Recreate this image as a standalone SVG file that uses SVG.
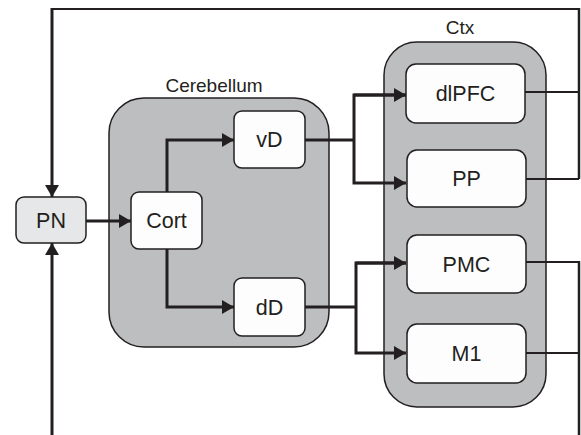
<svg xmlns="http://www.w3.org/2000/svg" width="581" height="435" viewBox="0 0 581 435">
<style>
.region{fill:#bcbec0;stroke:#231f20;stroke-width:1.5}
.box{fill:#fdfdfd;stroke:#231f20;stroke-width:1.5}
.pn{fill:#e6e7e8;stroke:#231f20;stroke-width:1.5}
.lbl{font-family:"Liberation Sans",Arial,sans-serif;font-size:21.5px;fill:#231f20;text-anchor:middle}
.glbl{font-family:"Liberation Sans",Arial,sans-serif;font-size:19px;fill:#231f20;text-anchor:middle}
.thick{fill:none;stroke:#231f20;stroke-width:3}
.thin{fill:none;stroke:#231f20;stroke-width:2}
.mid{fill:none;stroke:#231f20;stroke-width:2.5}
</style>
<defs>
<marker id="ah" markerUnits="userSpaceOnUse" markerWidth="12" markerHeight="14" refX="12" refY="7" orient="auto">
<path d="M0,0 L12,7 L0,14 z" fill="#231f20"/>
</marker>
</defs>
<rect width="581" height="435" fill="#ffffff"/>
<g id="cerebellum">
<rect class="region" x="109" y="98" width="220" height="249" rx="35"/>
<text class="glbl" x="214" y="92">Cerebellum</text>
</g>
<g id="ctx">
<rect class="region" x="384" y="42" width="162" height="365" rx="33"/>
<text class="glbl" x="460" y="34">Ctx</text>
</g>
<g id="connectors">
<path class="thick" d="M52,435 L52,243" marker-end="url(#ah)"/>
<path class="thin" d="M579,9 L51,9"/>
<path class="mid" d="M579,179 L579,8"/>
<path class="thick" d="M52,8 L52,197" marker-end="url(#ah)"/>
<path class="thin" d="M525,92 L579,92"/>
<path class="thin" d="M526,179 L579,179"/>
<path class="thin" d="M526,262 L579,262"/>
<path class="mid" d="M579,261 L579,435"/>
<path class="thin" d="M526,353 L579,353"/>
<path class="thick" d="M86,221 L131,221" marker-end="url(#ah)"/>
<path class="thick" d="M167,192 L167,140 L234,140" marker-end="url(#ah)"/>
<path class="thick" d="M167,249 L167,307 L234,307" marker-end="url(#ah)"/>
<path class="thick" d="M305,140 L354,140"/>
<path class="thick" d="M406,95 L354,95 L354,183 L406,183" marker-end="url(#ah)"/>
<path class="thick" d="M354,95 L406,95" marker-end="url(#ah)"/>
<path class="thick" d="M305,307 L356,307"/>
<path class="thick" d="M406,263 L356,263 L356,353 L406,353" marker-end="url(#ah)"/>
<path class="thick" d="M356,263 L406,263" marker-end="url(#ah)"/>
</g>
<g id="PN">
<rect class="pn" x="16" y="197" width="70" height="46" rx="8"/>
<text class="lbl" x="51" y="228">PN</text>
</g>
<g id="Cort">
<rect class="box" x="131" y="192" width="71" height="57" rx="8"/>
<text class="lbl" x="166.5" y="228">Cort</text>
</g>
<g id="vD">
<rect class="box" x="234" y="111" width="71" height="57" rx="8"/>
<text class="lbl" x="269.5" y="147">vD</text>
</g>
<g id="dD">
<rect class="box" x="234" y="278" width="71" height="58" rx="8"/>
<text class="lbl" x="269.5" y="314.5">dD</text>
</g>
<g id="dlPFC">
<rect class="box" x="406" y="64" width="119" height="59" rx="10"/>
<text class="lbl" x="465.5" y="101">dlPFC</text>
</g>
<g id="PP">
<rect class="box" x="407" y="150" width="119" height="57" rx="10"/>
<text class="lbl" x="466.5" y="186">PP</text>
</g>
<g id="PMC">
<rect class="box" x="407" y="235" width="119" height="58" rx="10"/>
<text class="lbl" x="466.5" y="271.5">PMC</text>
</g>
<g id="M1">
<rect class="box" x="407" y="324" width="119" height="59" rx="10"/>
<text class="lbl" x="466.5" y="361">M1</text>
</g>
</svg>
